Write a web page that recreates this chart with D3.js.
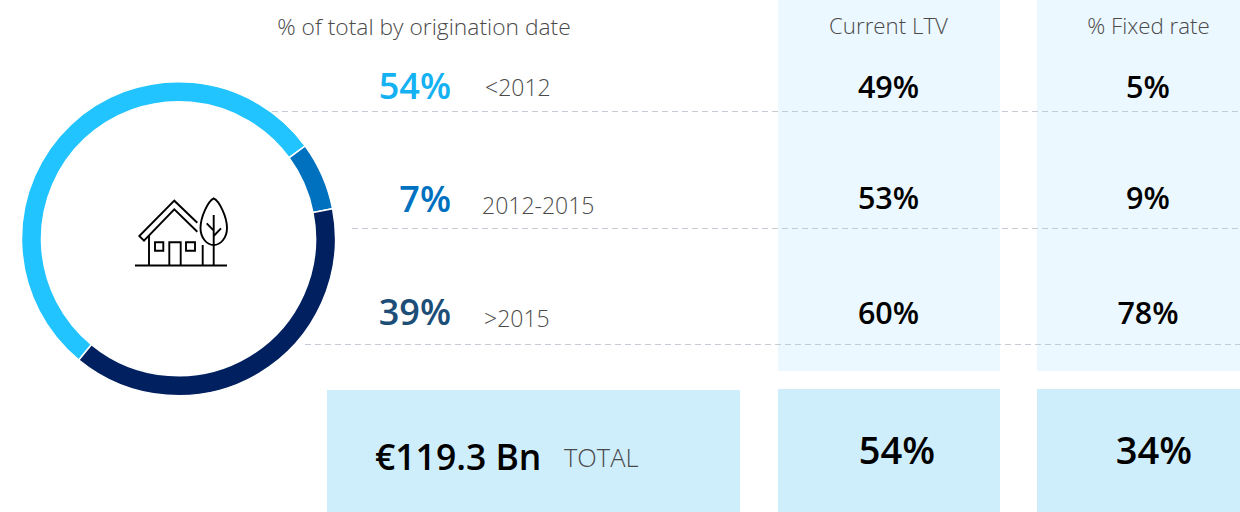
<!DOCTYPE html>
<html>
<head>
<meta charset="utf-8">
<script src="https://cdn.jsdelivr.net/npm/d3@7"></script>
<style>
  html, body { margin: 0; background: #fff; }
  svg { display: block; }
  text { font-family: "Open Sans", sans-serif; }
</style>
</head>
<body>
<svg id="chart" width="1240" height="512"></svg>
<script>
let periods = ['<2012', '2012-2015', '>2015'];
let shares = [54, 7, 39];
let currentLtv = [49, 53, 60];
let fixedRate = [5, 9, 78];
let totalLabel = '€119.3 Bn';
let totalWord = 'TOTAL';
let totalLtv = 54;
let totalFixed = 34;
let title = '% of total by origination date';
let ltvTitle = 'Current LTV';
let fixedTitle = '% Fixed rate';

let colors = d3.scaleOrdinal().domain(periods).range(['#22c4ff', '#0071bf', '#002060']);
let shareText = d3.scaleOrdinal().domain(periods).range(['#14b2f2', '#0071bf', '#1c4e77']);
let rowY = d3.scaleOrdinal().domain(periods).range([99, 211.5, 325]);
let labelY = d3.scaleOrdinal().domain(periods).range([96, 214, 327]);
let ruleY = d3.scaleOrdinal().domain(periods).range([111, 228, 344]);
let ruleX = d3.scaleOrdinal().domain(periods).range([272, 352, 305]);
let labelX = d3.scaleOrdinal().domain(periods).range([485, 482, 484]);
let valueY = d3.scaleOrdinal().domain(periods).range([98, 208.5, 324]);

let svg = d3.select('#chart');

// column panels
let panels = [
  [778, 0, 222, 371, '#ecf8ff'],
  [1037, 0, 203, 371, '#ecf8ff'],
  [327, 390, 413, 122, '#cfeefc'],
  [778, 389, 222, 123, '#cfeefc'],
  [1037, 389, 203, 123, '#cfeefc']
];
svg.selectAll('rect.panel').data(panels).join('rect')
  .attr('class', 'panel')
  .attr('x', (d) => d[0]).attr('y', (d) => d[1])
  .attr('width', (d) => d[2]).attr('height', (d) => d[3])
  .attr('fill', (d) => d[4]);

// dashed rules
svg.selectAll('line.rule').data(periods).join('line')
  .attr('class', 'rule')
  .attr('x1', (d) => ruleX(d)).attr('x2', 1240)
  .attr('y1', (d) => ruleY(d) + 0.5).attr('y2', (d) => ruleY(d) + 0.5)
  .attr('stroke', '#c6ccd6').attr('stroke-width', 1).attr('stroke-dasharray', '6 4');

// donut
let pie = d3.pie().sort(null).value((d) => d)
  .startAngle(219.4 * Math.PI / 180)
  .endAngle((219.4 + 360) * Math.PI / 180);
let arc = d3.arc().innerRadius(137).outerRadius(157);
let donut = svg.append('g').attr('transform', 'translate(178.5,238.7)');
pie(shares).forEach((d, i) => {
  donut.append('path')
    .attr('d', arc(d))
    .attr('fill', colors(periods[i]))
    .attr('stroke', '#fff')
    .attr('stroke-width', 1.5);
});

// house icon
let icon = svg.append('g')
  .attr('fill', 'none').attr('stroke', '#000').attr('stroke-width', 1.9);
icon.append('path').attr('d', 'M135 265.5H227');
icon.append('path').attr('d', 'M197.3 222.7L174.3 200.7L139.3 236L144 240.7L174.3 209.3L197.3 231.7');
icon.append('path').attr('d', 'M149 235V265.5M202.7 245V265.5');
icon.append('path').attr('d', 'M155 242.3H163.3V250.7H155ZM186 242.3H195V250.7H186ZM169.3 265.5V242.3H180.7V265.5');
icon.append('path').attr('d', 'M213.7 215V265.5M206.7 223.3L213.7 230.7M221 228.3L213.7 236');
icon.append('path').attr('d', 'M213.7 198.3C208 201 200.5 217 200.5 228C200.5 238 207 245 213.7 245C220.5 245 227 238 227 228C227 217 219.5 201 213.7 198.3Z');

function centered(x, y, text, size, weight, fill) {
  svg.append('text')
    .attr('x', x).attr('y', y)
    .attr('text-anchor', 'middle')
    .attr('font-size', size).attr('font-weight', weight)
    .attr('fill', fill)
    .text(text);
}

centered(424, 35, title, 22.8, 300, '#4a4a4a');
centered(888.5, 33.5, ltvTitle, 22.3, 300, '#4a4a4a');
centered(1148.5, 33.5, fixedTitle, 22.3, 300, '#4a4a4a');

periods.forEach((p, i) => {
  svg.append('text')
    .attr('x', 451).attr('y', rowY(p))
    .attr('text-anchor', 'end')
    .attr('font-size', 36).attr('font-weight', 600)
    .attr('fill', shareText(p))
    .text(`${shares[i]}%`);
  svg.append('text')
    .attr('x', labelX(p)).attr('y', labelY(p))
    .attr('font-size', 23).attr('font-weight', 300)
    .attr('fill', '#4a4a4a')
    .text(p);
  centered(888.5, valueY(p), `${currentLtv[i]}%`, 30.5, 600, '#000');
  centered(1148, valueY(p), `${fixedRate[i]}%`, 30.5, 600, '#000');
});

svg.append('text')
  .attr('x', 375).attr('y', 470)
  .attr('font-size', 35.5).attr('font-weight', 600)
  .attr('fill', '#000')
  .text(totalLabel);
svg.append('text')
  .attr('x', 564).attr('y', 467)
  .attr('font-size', 25.5).attr('font-weight', 300)
  .attr('fill', '#4a4a4a')
  .text(totalWord);
centered(897, 464, `${totalLtv}%`, 38, 600, '#000');
centered(1154, 464, `${totalFixed}%`, 38, 600, '#000');
</script>
</body>
</html>
